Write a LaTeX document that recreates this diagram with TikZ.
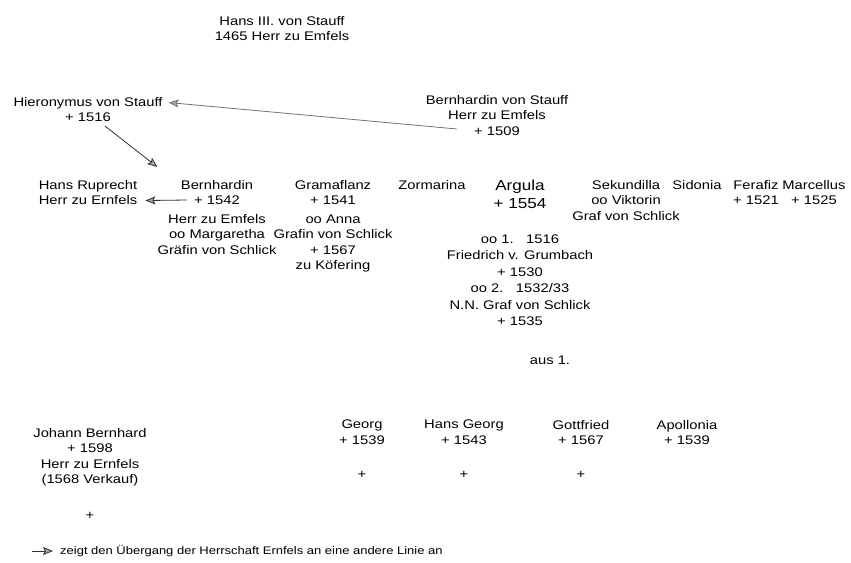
\documentclass[tikz,border=0pt]{standalone}
\usepackage{fontspec}
\setmainfont{Liberation Sans}[FakeStretch=1.18]
\usepackage{tikz}
\usetikzlibrary{arrows.meta}
\usetikzlibrary{positioning}

\begin{document}
\begin{tikzpicture}[x=1pt,y=-1pt]
    \tikzset{Person/.style={align=center, anchor=north, inner sep=0pt, font=\fontsize{12.5}{15.5}\selectfont}};
    \tikzset{Heir/.style={Person, font=\fontsize{14.5}{18}\selectfont}};
    \tikzset{Cross/.style={inner sep=0pt, font=\fontsize{12.5}{15.5}\selectfont}};
    \tikzset{Transfer/.style={draw=black!80, line width=0.8pt, -{Stealth[length=10pt,width=8pt,inset=2pt,fill=gray!70]}}};

    \useasboundingbox (0,0) rectangle (851,562);

    % generations
    \node[Person](hans)at (282,16){Hans III. von Stauff\\1465 Herr zu Emfels};
    \node[Person](hier)at (88,97){Hieronymus von Stauff\\+ 1516};
    \node[Person](bernS)at (497,95){Bernhardin von Stauff\\Herr zu Emfels\\+ 1509};

    \node[Person](hansR)at (88,180){Hans Ruprecht\\Herr zu Ernfels};
    \node[Person](bern)at (217,180){Bernhardin\\+ 1542\\[3pt]Herr zu Emfels\\oo Margaretha\\Gräfin von Schlick};
    \node[Person](gram)at (333,180){Gramaflanz\\+ 1541\\[3pt]oo Anna\\Grafin von Schlick\\+ 1567\\zu Köfering};
    \node[Person](zorm)at (432,180){Zormarina};
    \node[Heir](arg)at (520,180){Argula\\+ 1554};
    \node[Person, below=25.6pt of arg, font=\fontsize{12.5}{16.4}\selectfont](ehe){oo 1.\quad 1516\\Friedrich v. Grumbach\\+ 1530\\oo 2.\quad 1532/33\\N.N. Graf von Schlick\\+ 1535};
    \node[Person](sek)at (626,180){Sekundilla\\oo Viktorin\\Graf von Schlick};
    \node[Person](sid)at (697,180){Sidonia};
    \node[Person](fer)at (756,180){Ferafiz\\+ 1521};
    \node[Person](marc)at (814,180){Marcellus\\+ 1525};

    \node[Person](aus)at (550,356){aus 1.};

    \node[Person](joh)at (90,428){Johann Bernhard\\+ 1598\\Herr zu Ernfels\\(1568 Verkauf)};
    \node[Person](georg)at (362,420){Georg\\+ 1539};
    \node[Person](hg)at (464,420){Hans Georg\\+ 1543};
    \node[Person](gott)at (581,420){Gottfried\\+ 1567};
    \node[Person](apo)at (687,420){Apollonia\\+ 1539};

    \node[Cross, below=26pt of joh](x1){+};
    \node[Cross, below=26pt of georg](x2){+};
    \node[Cross, below=26pt of hg](x3){+};
    \node[Cross, below=26pt of gott](x4){+};

    % transfers of Ernfels
    \draw[Transfer, draw=black!55] ([xshift=-40pt,yshift=-34pt]bernS.north) -- ([xshift=6pt,yshift=7pt]hier.east);
    \draw[Transfer] ([xshift=17pt,yshift=-4pt]hier.south) -- ([yshift=13pt]bern.north west);
    \draw[Transfer] ([xshift=30pt,yshift=-20pt]bern.north west) -- ([xshift=8pt,yshift=-8pt]hansR.east);

    % legend
    \node[inner sep=0pt, anchor=west, font=\fontsize{11}{13}\selectfont](leg)at (60,551){zeigt den Übergang der Herrschaft Ernfels an eine andere Linie an};
    \coordinate (l0) at (32,551);
    \draw[Transfer] (l0) -- ([xshift=-7pt]leg.west);
  \end{tikzpicture}
\end{document}
